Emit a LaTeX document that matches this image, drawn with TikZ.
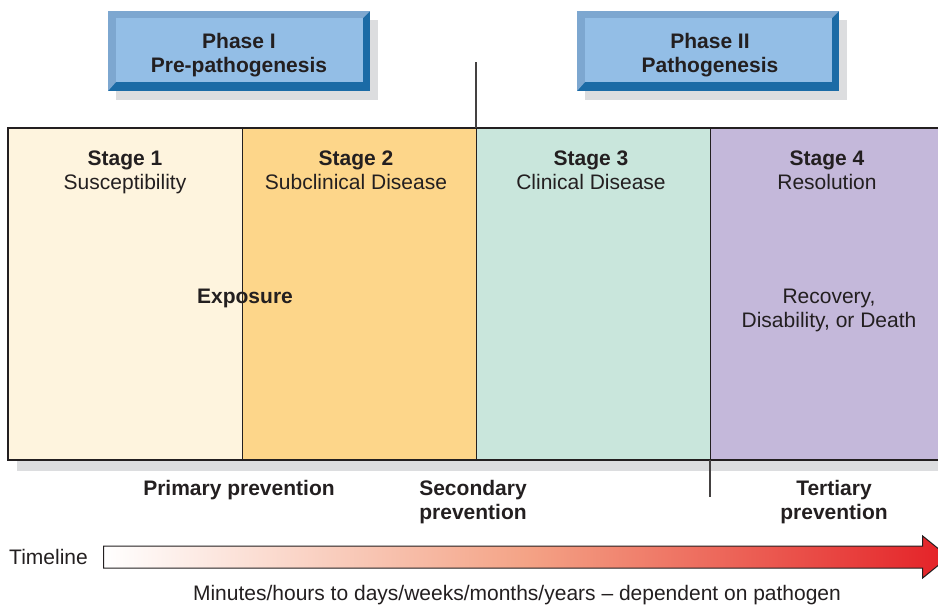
\documentclass[tikz,border=0pt]{standalone}
\usepackage{fontspec}
\setmainfont{Liberation Sans}
\usetikzlibrary{positioning,calc,shapes.arrows,shadows}
\definecolor{inkdark}{HTML}{231F20}
\definecolor{stageone}{HTML}{FEF4DE}
\definecolor{stagetwo}{HTML}{FDD68A}
\definecolor{stagethree}{HTML}{C9E6DC}
\definecolor{stagefour}{HTML}{C4B8DA}
\definecolor{phaseblue}{HTML}{93BEE6}
\definecolor{phasedark}{HTML}{1B6BA6}
\definecolor{phaseedge}{HTML}{7DA7D0}
\definecolor{shadegray}{HTML}{DCDDDF}
\definecolor{arrowred}{HTML}{E42127}
\definecolor{arrowmid}{HTML}{F4A386}
\newcommand\diagsize{\fontsize{21}{24}\selectfont}

\begin{document}
\begin{tikzpicture}[x=1pt,y=-1pt,font=\diagsize,
      every node/.style={text=inkdark},
      plain/.style={inner sep=0pt,align=center},
      stagebox/.style={draw=inkdark,line width=1pt,minimum width=234pt,minimum height=332pt,inner sep=0pt,outer sep=0pt,
        drop shadow={shadow xshift=9pt,shadow yshift=-11pt,fill=shadegray,opacity=1}},
      stagelabel/.style={plain},
      prevlabel/.style={plain,font=\diagsize\bfseries},
      phasebox/.style={fill=phasedark,minimum width=262pt,minimum height=80pt,inner sep=0pt,outer sep=0pt,
        drop shadow={shadow xshift=8pt,shadow yshift=-9pt,fill=shadegray,opacity=1}},
      phasetext/.style={plain,font=\diagsize\bfseries},
      frameline/.style={draw=inkdark,line width=2.6pt},
      markline/.style={draw=inkdark!85,line width=1.5pt},
      timearrow/.style={single arrow,draw=inkdark,line width=1pt,minimum height=845pt,minimum width=41pt,inner sep=10.5pt,
        single arrow head extend=10pt,single arrow tip angle=78,
        left color=white,right color=arrowred,middle color=arrowmid}]
    \useasboundingbox (0,0) rectangle (938,605);
    \clip (0,0) rectangle (938,605);
    % phase boxes
    \node[phasebox] (p1) at (239,51) {};
    \node[phasebox] (p2) at (708,51) {};
    \foreach \p in {p1,p2} {
      \fill[phaseedge] (\p.south west) -- (\p.north west) -- (\p.north east) -- ([shift={(-7,7)}]\p.north east)
        -- ([shift={(8,7)}]\p.north west) -- ([shift={(8,-9)}]\p.south west) -- cycle;
      \fill[phaseblue] ([shift={(8,7)}]\p.north west) rectangle ([shift={(-7,-9)}]\p.south east);
    }
    \node[phasetext] (p1t) at ([yshift=-4pt]p1.center) {Phase I\\Pre-pathogenesis};
    \node[phasetext] (p2t) at ([xshift=2pt,yshift=-4pt]p2.center) {Phase II\\Pathogenesis};
    % stages
    \node[stagebox,fill=stageone,anchor=north west] (s1) at (8,128) {};
    \node[stagebox,fill=stagetwo,right=0pt of s1] (s2) {};
    \node[stagebox,fill=stagethree,right=0pt of s2] (s3) {};
    \node[stagebox,fill=stagefour,right=0pt of s3] (s4) {};
    \draw[frameline] (s1.north west) rectangle (s4.south east);
    \node[stagelabel,below=61pt of s1.north,anchor=base] (l1) {\textbf{Stage 1}\\Susceptibility};
    \node[stagelabel,below=61pt of s2.north,anchor=base,xshift=-3pt] (l2) {\textbf{Stage 2}\\Subclinical Disease};
    \node[stagelabel,below=61pt of s3.north,anchor=base,xshift=-2pt] (l3) {\textbf{Stage 3}\\Clinical Disease};
    \node[stagelabel,below=61pt of s4.north,anchor=base] (l4) {\textbf{Stage 4}\\Resolution};
    \node[plain,font=\diagsize\bfseries,anchor=base] (expo) at ($(s1.north east)+(3,175)$) {Exposure};
    \node[plain,below=199pt of s4.north,anchor=base,xshift=2pt] (outc) {Recovery,\\Disability, or Death};
    % phase cut and tertiary mark
    \coordinate (cut) at (476,62);
    \draw[markline] (cut) -- (s3.north west);
    \coordinate (tertend) at (710,497);
    \draw[markline] (s4.south west) -- (tertend);
    % prevention levels
    \node[prevlabel,anchor=base] (prim) at ($(s1.south east)+(-3,35)$) {Primary prevention};
    \node[prevlabel,anchor=base] (sec) at ($(s2.south east)+(-3,59)$) {Secondary\\prevention};
    \node[prevlabel,anchor=base] (tert) at ($(s4.south)+(7,59)$) {Tertiary\\prevention};
    % timeline
    \node[timearrow,anchor=west] (tl) at (103,557) {};
    \node[plain,left=15pt of tl.west] (tlab) {Timeline};
    \node[plain,anchor=base] (span) at (517,600) {Minutes/hours to days/weeks/months/years – dependent on pathogen};
  \end{tikzpicture}
\end{document}
